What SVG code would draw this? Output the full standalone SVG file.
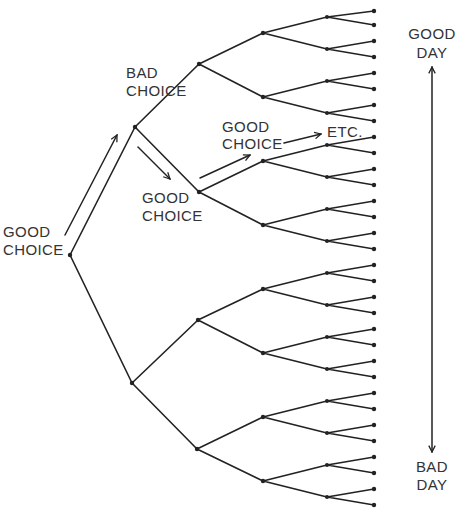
<svg xmlns="http://www.w3.org/2000/svg" width="460" height="511" viewBox="0 0 460 511">
<defs>
<style>
.e{stroke:#222;stroke-width:1.6;fill:none;stroke-linecap:round}
.a{stroke:#222;stroke-width:1.5;fill:none;stroke-linecap:round}
.d{fill:#222}
.t{font-family:"Liberation Sans",Arial,sans-serif;font-size:15px;fill:#333;letter-spacing:0.4px}
.m{text-anchor:middle}
</style>
<marker id="ah" viewBox="0 0 10 10" refX="9" refY="5" markerWidth="8" markerHeight="8" markerUnits="userSpaceOnUse" orient="auto-start-reverse">
<path d="M1,1 L9,5 L1,9" fill="none" stroke="#222" stroke-width="1.6"/>
</marker>
</defs>
<rect width="460" height="511" fill="#fff"/>
<g id="connectors">
<path class="e" d="M70,255L135,127M70,255L132,383M135,127L199,64M135,127L199,192M132,383L198,320M132,383L197,449"/>
<path class="e" d="M199,64L263,33M199,64L263,97M199,192L263,161M199,192L263,225M198,320L263,289M198,320L263,353M197,449L263,417M197,449L263,481"/>
<path class="e" d="M263,33L327,17M263,33L327,49M263,97L327,81M263,97L327,113M263,161L327,145M263,161L327,177M263,225L327,209M263,225L327,241M263,289L327,273M263,289L327,305M263,353L327,337M263,353L327,369M263,417L327,401M263,417L327,433M263,481L327,465M263,481L327,497"/>
<path class="e" d="M327,17L374,11M327,17L374,25M327,49L374,41M327,49L374,57M327,81L374,73M327,81L374,89M327,113L374,105M327,113L374,121M327,145L374,137M327,145L374,153M327,177L374,169M327,177L374,185M327,209L374,201M327,209L374,217M327,241L374,233M327,241L374,249M327,273L374,265M327,273L374,281M327,305L374,297M327,305L374,313M327,337L374,329M327,337L374,345M327,369L374,361M327,369L374,377M327,401L374,393M327,401L374,409M327,433L374,425M327,433L374,441M327,465L374,457M327,465L374,473M327,497L374,489M327,497L374,505"/>
<line class="a" x1="65" y1="235" x2="117" y2="135" marker-end="url(#ah)"/>
<line class="a" x1="138" y1="147" x2="170" y2="179" marker-end="url(#ah)"/>
<line class="a" x1="200" y1="178" x2="250" y2="155" marker-end="url(#ah)"/>
<line class="a" x1="284" y1="143" x2="321" y2="134" marker-end="url(#ah)"/>
<line class="a" x1="432" y1="67" x2="432" y2="452" marker-start="url(#ah)" marker-end="url(#ah)"/>
</g>
<g id="nodes">
<circle id="n0" class="d" cx="70" cy="255" r="2.2"/>
<circle id="n1a" class="d" cx="135" cy="127" r="2.2"/>
<circle id="n1b" class="d" cx="132" cy="383" r="2.2"/>
<circle id="n2a" class="d" cx="199" cy="64" r="2.2"/>
<circle id="n2b" class="d" cx="199" cy="192" r="2.2"/>
<circle id="n2c" class="d" cx="198" cy="320" r="2.2"/>
<circle id="n2d" class="d" cx="197" cy="449" r="2.2"/>
<circle id="n3a" class="d" cx="263" cy="33" r="2.2"/>
<circle id="n3b" class="d" cx="263" cy="97" r="2.2"/>
<circle id="n3c" class="d" cx="263" cy="161" r="2.2"/>
<circle id="n3d" class="d" cx="263" cy="225" r="2.2"/>
<circle id="n3e" class="d" cx="263" cy="289" r="2.2"/>
<circle id="n3f" class="d" cx="263" cy="353" r="2.2"/>
<circle id="n3g" class="d" cx="263" cy="417" r="2.2"/>
<circle id="n3h" class="d" cx="263" cy="481" r="2.2"/>
<circle id="n4-1" class="d" cx="327" cy="17" r="2"/>
<circle id="n4-2" class="d" cx="327" cy="49" r="2"/>
<circle id="n4-3" class="d" cx="327" cy="81" r="2"/>
<circle id="n4-4" class="d" cx="327" cy="113" r="2"/>
<circle id="n4-5" class="d" cx="327" cy="145" r="2"/>
<circle id="n4-6" class="d" cx="327" cy="177" r="2"/>
<circle id="n4-7" class="d" cx="327" cy="209" r="2"/>
<circle id="n4-8" class="d" cx="327" cy="241" r="2"/>
<circle id="n4-9" class="d" cx="327" cy="273" r="2"/>
<circle id="n4-10" class="d" cx="327" cy="305" r="2"/>
<circle id="n4-11" class="d" cx="327" cy="337" r="2"/>
<circle id="n4-12" class="d" cx="327" cy="369" r="2"/>
<circle id="n4-13" class="d" cx="327" cy="401" r="2"/>
<circle id="n4-14" class="d" cx="327" cy="433" r="2"/>
<circle id="n4-15" class="d" cx="327" cy="465" r="2"/>
<circle id="n4-16" class="d" cx="327" cy="497" r="2"/>
<circle id="l1" class="d" cx="374" cy="11" r="2.2"/>
<circle id="l2" class="d" cx="374" cy="25" r="2.2"/>
<circle id="l3" class="d" cx="374" cy="41" r="2.2"/>
<circle id="l4" class="d" cx="374" cy="57" r="2.2"/>
<circle id="l5" class="d" cx="374" cy="73" r="2.2"/>
<circle id="l6" class="d" cx="374" cy="89" r="2.2"/>
<circle id="l7" class="d" cx="374" cy="105" r="2.2"/>
<circle id="l8" class="d" cx="374" cy="121" r="2.2"/>
<circle id="l9" class="d" cx="374" cy="137" r="2.2"/>
<circle id="l10" class="d" cx="374" cy="153" r="2.2"/>
<circle id="l11" class="d" cx="374" cy="169" r="2.2"/>
<circle id="l12" class="d" cx="374" cy="185" r="2.2"/>
<circle id="l13" class="d" cx="374" cy="201" r="2.2"/>
<circle id="l14" class="d" cx="374" cy="217" r="2.2"/>
<circle id="l15" class="d" cx="374" cy="233" r="2.2"/>
<circle id="l16" class="d" cx="374" cy="249" r="2.2"/>
<circle id="l17" class="d" cx="374" cy="265" r="2.2"/>
<circle id="l18" class="d" cx="374" cy="281" r="2.2"/>
<circle id="l19" class="d" cx="374" cy="297" r="2.2"/>
<circle id="l20" class="d" cx="374" cy="313" r="2.2"/>
<circle id="l21" class="d" cx="374" cy="329" r="2.2"/>
<circle id="l22" class="d" cx="374" cy="345" r="2.2"/>
<circle id="l23" class="d" cx="374" cy="361" r="2.2"/>
<circle id="l24" class="d" cx="374" cy="377" r="2.2"/>
<circle id="l25" class="d" cx="374" cy="393" r="2.2"/>
<circle id="l26" class="d" cx="374" cy="409" r="2.2"/>
<circle id="l27" class="d" cx="374" cy="425" r="2.2"/>
<circle id="l28" class="d" cx="374" cy="441" r="2.2"/>
<circle id="l29" class="d" cx="374" cy="457" r="2.2"/>
<circle id="l30" class="d" cx="374" cy="473" r="2.2"/>
<circle id="l31" class="d" cx="374" cy="489" r="2.2"/>
<circle id="l32" class="d" cx="374" cy="505" r="2.2"/>
</g>
<g id="labels">
<text class="t" x="3" y="237">GOOD</text>
<text class="t" x="3" y="255">CHOICE</text>
<text class="t" x="126" y="78">BAD</text>
<text class="t" x="126" y="96">CHOICE</text>
<text class="t" x="142" y="203">GOOD</text>
<text class="t" x="142" y="221">CHOICE</text>
<text class="t" x="222" y="132">GOOD</text>
<text class="t" x="222" y="149">CHOICE</text>
<text class="t" x="327" y="137">ETC.</text>
<text class="t m" x="432" y="39">GOOD</text>
<text class="t m" x="432" y="58">DAY</text>
<text class="t m" x="432" y="472">BAD</text>
<text class="t m" x="432" y="490">DAY</text>
</g>
</svg>
